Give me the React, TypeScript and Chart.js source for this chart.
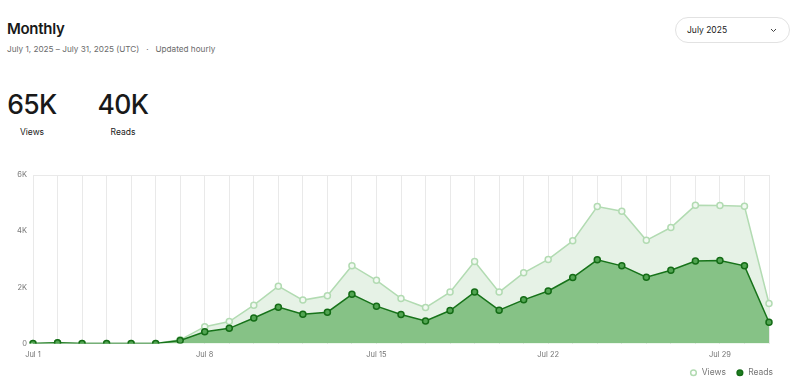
import React, { useEffect, useRef } from "react";
import { Chart, registerables } from "chart.js";

Chart.register(...registerables);

const days: string[] = Array.from({ length: 31 }, (_, i) => `Jul ${i + 1}`);
const viewsData: number[] = [
  0, 30, 0, 0, 0, 0, 130, 600, 780, 1365, 2040, 1545, 1700, 2770, 2250, 1605,
  1280, 1830, 2920, 1830, 2515, 2995, 3655, 4875, 4710, 3675, 4130, 4920, 4910,
  4885, 1425,
];
const readsData: number[] = [
  0, 30, 0, 0, 0, 0, 110, 420, 540, 910, 1295, 1040, 1115, 1750, 1330, 1030,
  800, 1175, 1830, 1185, 1555, 1870, 2350, 2980, 2765, 2360, 2610, 2935, 2955,
  2765, 755,
];
const yTicks: number[] = [0, 2000, 4000, 6000];
const xTickEvery = 7;

const FONT = "Inter, 'Liberation Sans', sans-serif";
const GREY = "#767676";

function ChartBlock() {
  const ref = useRef<HTMLCanvasElement | null>(null);
  useEffect(() => {
    if (!ref.current) return;
    const chart = new Chart(ref.current, {
      type: "line",
      data: {
        labels: days,
        datasets: [
          {
            label: "Reads",
            data: readsData,
            borderColor: "#17731a",
            backgroundColor: "#86c286",
            borderWidth: 1.5,
            fill: "origin",
            tension: 0,
            pointRadius: 3,
            pointBorderWidth: 1.5,
            pointBackgroundColor: "#52a552",
            pointBorderColor: "#146c16",
          },
          {
            label: "Views",
            data: viewsData,
            borderColor: "#b2dbb2",
            backgroundColor: "#e6f2e6",
            borderWidth: 1.5,
            fill: "origin",
            tension: 0,
            pointRadius: 3,
            pointBorderWidth: 1.5,
            pointBackgroundColor: "#f2f9f2",
            pointBorderColor: "#b2dbb2",
          },
        ],
      },
      options: {
        animation: false,
        responsive: true,
        maintainAspectRatio: false,
        layout: { padding: { top: 15, right: 17, left: 0, bottom: 4 } },
        plugins: {
          tooltip: { enabled: false },
          legend: {
            position: "bottom",
            align: "end",
            reverse: true,
            labels: {
              usePointStyle: true,
              pointStyle: "circle",
              boxWidth: 8,
              boxHeight: 4,
              padding: 10,
              color: GREY,
              font: { family: FONT, size: 8.5 },
              generateLabels: (c: any) =>
                c.data.datasets.map((ds: any, i: number) => ({
                  text: ds.label,
                  fillStyle: i === 0 ? "#1f7d21" : "#ffffff",
                  strokeStyle: i === 0 ? "#146c16" : "#b2dbb2",
                  lineWidth: 1.5,
                  pointStyle: "circle",
                  fontColor: GREY,
                  hidden: false,
                  datasetIndex: i,
                })),
            },
          },
        },
        scales: {
          x: {
            type: "category",
            offset: false,
            afterFit: (s: any) => {
              s.height = 15;
            },
            grid: { color: "#e9e9e9", lineWidth: 1, drawTicks: false },
            border: { display: false },
            ticks: {
              autoSkip: false,
              maxRotation: 0,
              padding: 7,
              color: GREY,
              font: { family: FONT, size: 7.5 },
              callback: (_v: any, i: number) => (i % xTickEvery === 0 ? days[i] : ""),
            },
          },
          y: {
            min: yTicks[0],
            max: yTicks[yTicks.length - 1],
            afterFit: (s: any) => {
              s.width = 33;
            },
            afterBuildTicks: (s: any) => {
              s.ticks = yTicks.map((v) => ({ value: v }));
            },
            grid: {
              drawTicks: false,
              color: (ctx: any) =>
                ctx.tick && ctx.tick.value === yTicks[yTicks.length - 1] ? "#e9e9e9" : "rgba(0,0,0,0)",
            },
            border: { display: false },
            ticks: {
              padding: 6,
              color: GREY,
              font: { family: FONT, size: 7.5 },
              callback: (v: any) => (v === 0 ? "0" : `${Number(v) / 1000}K`),
            },
          },
          yR: {
            type: "linear",
            position: "right",
            display: true,
            afterFit: (s: any) => {
              s.width = 14;
            },
            grid: { display: false, drawTicks: false },
            border: { display: false },
            ticks: { display: false },
          },
        },
      },
    });
    return () => chart.destroy();
  }, []);
  return (
    <div style={{ position: "absolute", left: 0, top: 160, width: 800, height: 231 }}>
      <canvas ref={ref} />
    </div>
  );
}

export default function App() {
  return (
    <div
      style={{
        position: "fixed",
        left: 0,
        top: 0,
        width: 800,
        height: 391,
        background: "#fff",
        fontFamily: FONT,
        color: "#191919",
        overflow: "hidden",
      }}
    >
      <div style={{ position: "absolute", left: 7, top: 20.5, fontSize: 15, lineHeight: 1, fontWeight: 600, letterSpacing: -0.3 }}>
        Monthly
      </div>
      <div style={{ position: "absolute", left: 7, top: 45, fontSize: 8.2, lineHeight: 1, color: "#6b6b6b", whiteSpace: "pre" }}>
        {"July 1, 2025 – July 31, 2025 (UTC)   ·   Updated hourly"}
      </div>
      <div style={{ position: "absolute", left: 6, top: 91, width: 52, textAlign: "center" }}>
        <div style={{ fontSize: 26.5, fontWeight: 500, letterSpacing: -0.6, lineHeight: 1 }}>65K</div>
      </div>
      <div style={{ position: "absolute", left: 6, top: 128, width: 52, textAlign: "center", fontSize: 8.5, lineHeight: 1 }}>
        Views
      </div>
      <div style={{ position: "absolute", left: 96, top: 91, width: 54, textAlign: "center" }}>
        <div style={{ fontSize: 26.5, fontWeight: 500, letterSpacing: -0.6, lineHeight: 1 }}>40K</div>
      </div>
      <div style={{ position: "absolute", left: 96, top: 128, width: 54, textAlign: "center", fontSize: 8.5, lineHeight: 1 }}>
        Reads
      </div>
      <div
        style={{
          position: "absolute",
          left: 675,
          top: 17,
          width: 115,
          height: 26,
          border: "1px solid #e2e2e2",
          borderRadius: 14,
          boxSizing: "border-box",
          fontSize: 8.5,
          display: "flex",
          alignItems: "center",
          paddingLeft: 11,
        }}
      >
        July 2025
        <svg width="7" height="5" viewBox="0 0 7 5" style={{ position: "absolute", right: 12, top: 10 }}>
          <polyline points="1,1 3.5,3.5 6,1" fill="none" stroke="#444" strokeWidth="1" />
        </svg>
      </div>
      <ChartBlock />
    </div>
  );
}
